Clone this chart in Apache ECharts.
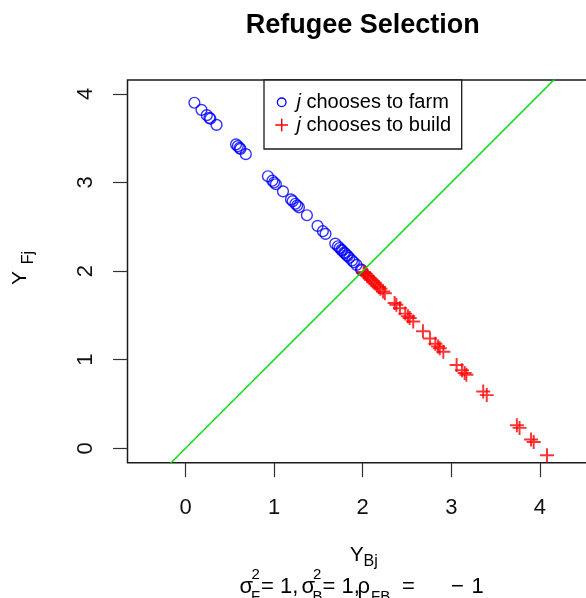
<!DOCTYPE html>
<html>
<head>
<meta charset="utf-8">
<script src="https://cdn.jsdelivr.net/npm/echarts@6/dist/echarts.min.js"></script>
<style>
  html, body { margin: 0; padding: 0; background: #ffffff; }
  #chart { width: 586px; height: 598px; }
</style>
</head>
<body>
<div id="chart"></div>
<script>
// Tick positions on both axes
const xTicks = [0, 1, 2, 3, 4];
const yTicks = [0, 1, 2, 3, 4];

// Workers for whom farming pays more (Y_Bj, Y_Fj)
const farmB = [0.10, 0.18, 0.24, 0.27, 0.28, 0.35, 0.57, 0.59, 0.61, 0.62, 0.68,
               0.93, 0.98, 1.00, 1.02, 1.10, 1.19, 1.21, 1.24, 1.26, 1.28, 1.37,
               1.49, 1.55, 1.58, 1.69, 1.72, 1.74, 1.76, 1.77, 1.79, 1.80, 1.82,
               1.83, 1.85, 1.88, 1.90, 1.93, 1.98, 1.99];
const farmF = [3.90, 3.82, 3.76, 3.73, 3.72, 3.65, 3.43, 3.41, 3.39, 3.38, 3.32,
               3.07, 3.02, 3.00, 2.98, 2.90, 2.81, 2.79, 2.76, 2.74, 2.72, 2.63,
               2.51, 2.45, 2.42, 2.31, 2.28, 2.26, 2.24, 2.23, 2.21, 2.20, 2.18,
               2.17, 2.15, 2.12, 2.10, 2.07, 2.02, 2.01];

// Workers for whom building pays more (Y_Bj, Y_Fj)
const buildB = [2.01, 2.02, 2.03, 2.05, 2.06, 2.08, 2.10, 2.12, 2.14, 2.16, 2.18,
                2.20, 2.23, 2.25, 2.36, 2.38, 2.42, 2.48, 2.51, 2.53, 2.57, 2.68,
                2.76, 2.82, 2.85, 2.87, 2.91, 3.06, 3.12, 3.15, 3.17, 3.36, 3.40,
                3.74, 3.77, 3.90, 3.93, 4.08];
const buildF = [1.99, 1.98, 1.97, 1.95, 1.94, 1.92, 1.90, 1.88, 1.86, 1.84, 1.82,
                1.80, 1.77, 1.75, 1.64, 1.62, 1.58, 1.52, 1.49, 1.47, 1.43, 1.32,
                1.24, 1.18, 1.15, 1.13, 1.09, 0.94, 0.88, 0.85, 0.83, 0.64, 0.60,
                0.26, 0.23, 0.10, 0.07, -0.08];

// Indifference line Y_F = Y_B, given by its two end values
const diagB = [-1, 5];
const diagF = [-1, 5];

const FONT = "'Liberation Sans', Helvetica, Arial, sans-serif";
const PLUS = 'path://M0.43,0 L0.57,0 L0.57,0.43 L1,0.43 L1,0.57 L0.57,0.57 L0.57,1 L0.43,1 L0.43,0.57 L0,0.57 L0,0.43 L0.43,0.43 Z';

const zip = (a, b) => a.map((v, i) => [v, b[i]]);

const chart = echarts.init(document.getElementById('chart'), null, { renderer: 'canvas' });

function txt(x, y, text, size, extra) {
  return {
    type: 'text', x: x, y: y, silent: true,
    style: Object.assign({
      text: text, fontSize: size, fontFamily: FONT, fill: '#000',
      align: 'left', verticalAlign: 'middle'
    }, extra || {})
  };
}

const italicJ = { rich: { i: { fontStyle: 'italic', fontSize: 20, fontFamily: FONT } } };

chart.setOption({
  animation: false,
  backgroundColor: '#ffffff',
  title: {
    text: 'Refugee Selection',
    left: 362.7, top: 12, padding: 0, textAlign: 'center',
    textStyle: { fontFamily: FONT, fontSize: 27, fontWeight: 'bold', color: '#000' }
  },
  grid: {
    left: 127.5, top: 80, width: 484, height: 382.7,
    outerBoundsMode: 'none', containLabel: false,
    show: true, borderColor: '#1a1a1a', borderWidth: 1.5, backgroundColor: 'transparent'
  },
  xAxis: {
    type: 'value', min: -0.655, max: 4.808,
    axisLine: { show: false, onZero: false }, splitLine: { show: false },
    axisTick: { show: true, customValues: xTicks, length: 14.5, lineStyle: { color: '#333', width: 1.2 } },
    axisLabel: { customValues: xTicks, margin: 34, fontSize: 22, fontFamily: FONT, color: '#111' }
  },
  yAxis: {
    type: 'value', min: -0.163, max: 4.157,
    axisLine: { show: false, onZero: false }, splitLine: { show: false },
    axisTick: { show: true, customValues: yTicks, length: 14.5, lineStyle: { color: '#333', width: 1.2 } },
    axisLabel: { customValues: yTicks, rotate: 90, margin: 31, fontSize: 22, fontFamily: FONT, color: '#111' }
  },
  series: [
    {
      name: 'j chooses to farm', type: 'scatter', silent: true,
      data: zip(farmB, farmF),
      symbol: 'circle', symbolSize: 10.8,
      itemStyle: { color: 'rgba(0,0,0,0)', borderColor: '#0000ff', borderWidth: 1.4 },
      z: 2
    },
    {
      name: 'j chooses to build', type: 'scatter', silent: true,
      data: zip(buildB, buildF),
      symbol: PLUS, symbolSize: 14,
      itemStyle: { color: '#ff0000' },
      z: 3
    },
    {
      name: 'diagonal', type: 'line', silent: true,
      data: zip(diagB, diagF),
      showSymbol: false, clip: true,
      lineStyle: { color: '#00dd00', width: 1.4 },
      z: 4
    }
  ],
  graphic: [
    // legend box
    { type: 'rect', silent: true, z: 10,
      shape: { x: 264, y: 80, width: 197.7, height: 69 },
      style: { fill: '#ffffff', stroke: '#1a1a1a', lineWidth: 1.3 } },
    { type: 'circle', silent: true, z: 11,
      shape: { cx: 281.7, cy: 102.3, r: 4.3 },
      style: { fill: 'none', stroke: '#0000ff', lineWidth: 1.3 } },
    { type: 'line', silent: true, z: 11,
      shape: { x1: 275.3, y1: 125, x2: 288.1, y2: 125 },
      style: { stroke: '#ff0000', lineWidth: 1.5 } },
    { type: 'line', silent: true, z: 11,
      shape: { x1: 281.7, y1: 118.6, x2: 281.7, y2: 131.4 },
      style: { stroke: '#ff0000', lineWidth: 1.5 } },
    Object.assign(txt(296.5, 102.3, '{i|j} chooses to farm', 20, italicJ), { z: 11 }),
    Object.assign(txt(296.5, 125, '{i|j} chooses to build', 20, italicJ), { z: 11 }),

    // x axis title Y_Bj
    txt(356.7, 555.7, 'Y', 21, { align: 'center' }),
    txt(363.5, 561.5, 'Bj', 16),

    // y axis title Y_Fj (rotated)
    Object.assign(txt(20, 278, 'Y', 21, { align: 'center' }), { rotation: Math.PI / 2 }),
    Object.assign(txt(29, 257.5, 'Fj', 16, { align: 'center' }), { rotation: Math.PI / 2 }),

    // parameter line beneath the x axis title
    txt(239.5, 587.4, 'σ', 22),
    txt(251.5, 575, '2', 15),
    txt(251, 597, 'F', 15),
    txt(261, 587.4, '= 1,', 22),
    txt(301.5, 587.4, 'σ', 22),
    txt(313, 575, '2', 15),
    txt(312.5, 597, 'B', 15),
    txt(322.5, 587.4, '= 1,', 22),
    txt(357.5, 587.4, 'ρ', 22),
    txt(371, 597, 'FB', 15),
    txt(402, 587.4, '=', 22),
    txt(451, 587.4, '\u2212', 22),
    txt(471.5, 587.4, '1', 22)
  ]
});
</script>
</body>
</html>
